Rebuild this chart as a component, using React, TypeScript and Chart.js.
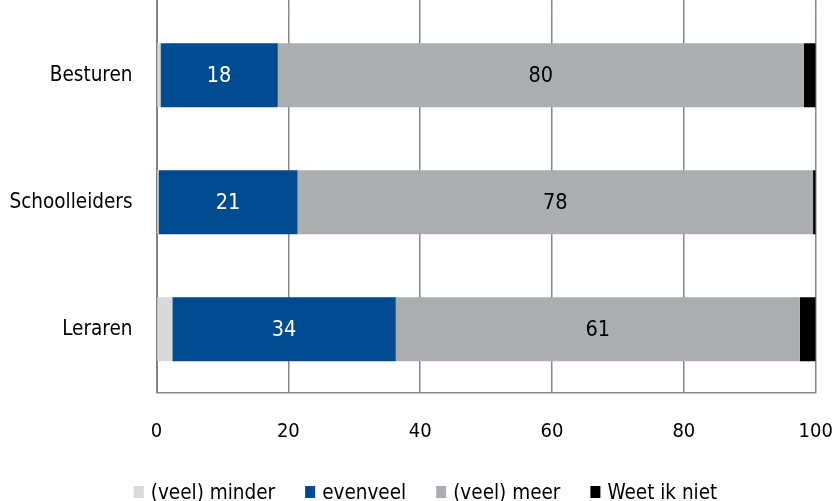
import { useEffect, useRef } from "react";
import { Chart, registerables } from "chart.js";

Chart.register(...registerables);

const categories = ["Besturen", "Schoolleiders", "Leraren"];
const seriesNames = ["(veel) minder", "evenveel", "(veel) meer", "Weet ik niet"];
const minder = [0.6, 0.3, 2.4];
const evenveel = [17.8, 21.1, 33.9];
const meer = [79.8, 78.2, 61.3];
const weetNiet = [1.8, 0.4, 2.4];
const xTicks = [0, 20, 40, 60, 80, 100];

const colors = ["#d9d9d9", "#004a8f", "#abaeb1", "#000000"];
const labelColors = [null, "#ffffff", "#000000", null];
const FONT = "'DejaVu Sans Condensed', 'DejaVu Sans', sans-serif";
const GRID = "#888888";
const AXIS = "#808080";

const align = (px: number, w: number) => Math.round(px - w / 2) + w / 2;

const topGridPlugin = {
  id: "topGrid",
  beforeDatasetsDraw(chart: any) {
    const { ctx, chartArea, scales } = chart;
    ctx.save();
    for (const v of xTicks) {
      const w = v === 0 ? 2 : 1.5;
      ctx.strokeStyle = v === 0 ? AXIS : GRID;
      ctx.lineWidth = w;
      const x = align(scales.x.getPixelForValue(v), w);
      ctx.beginPath();
      ctx.moveTo(x, 0);
      ctx.lineTo(x, chartArea.top);
      ctx.stroke();
    }
    ctx.restore();
  },
};

const valueLabelPlugin = {
  id: "valueLabels",
  afterDatasetsDraw(chart: any) {
    const { ctx } = chart;
    ctx.save();
    ctx.font = `21.5px ${FONT}`;
    ctx.textAlign = "center";
    ctx.textBaseline = "middle";
    chart.data.datasets.forEach((ds: any, di: number) => {
      const color = labelColors[di];
      if (!color) return;
      const meta = chart.getDatasetMeta(di);
      meta.data.forEach((el: any, i: number) => {
        const p = el.getProps(["x", "y", "base"], true);
        ctx.fillStyle = color;
        ctx.fillText(String(Math.round(ds.data[i])), (p.x + p.base) / 2, p.y + 1);
      });
    });
    ctx.restore();
  },
};

const legendPlugin = {
  id: "customLegend",
  afterDraw(chart: any) {
    const { ctx } = chart;
    ctx.save();
    ctx.font = `20.5px ${FONT}`;
    const boxW = 10;
    const boxH = 12;
    const gap = 7;
    const itemGap = 30;
    const widths = seriesNames.map((n) => ctx.measureText(n).width);
    const total =
      widths.reduce((a, b) => a + b, 0) + seriesNames.length * (boxW + gap) + itemGap * (seriesNames.length - 1);
    let x = chart.width / 2 + 8.5 - total / 2;
    const baseline = 499;
    seriesNames.forEach((n, i) => {
      ctx.fillStyle = colors[i];
      ctx.fillRect(x, 486, boxW, boxH);
      x += boxW + gap;
      ctx.fillStyle = "#000";
      ctx.textBaseline = "alphabetic";
      ctx.textAlign = "left";
      ctx.fillText(n, x, baseline);
      x += widths[i] + itemGap;
    });
    ctx.restore();
  },
};

export default function App() {
  const ref = useRef<HTMLCanvasElement | null>(null);
  useEffect(() => {
    if (!ref.current) return;
    const series = [minder, evenveel, meer, weetNiet];
    const chart = new Chart(ref.current, {
      type: "bar",
      data: {
        labels: categories,
        datasets: series.map((d, i) => ({
          label: seriesNames[i],
          data: d,
          backgroundColor: colors[i],
          borderWidth: 0,
          categoryPercentage: 1,
          barPercentage: 0.503,
        })),
      },
      options: {
        indexAxis: "y",
        animation: false,
        responsive: true,
        maintainAspectRatio: false,
        layout: { padding: { top: 11.7, right: 18.3, bottom: 0, left: 0 } },
        plugins: {
          legend: { display: false },
          tooltip: { enabled: false },
        },
        scales: {
          x: {
            stacked: true,
            min: 0,
            max: 100,
            afterBuildTicks: (s: any) => {
              s.ticks = xTicks.map((v) => ({ value: v }));
            },
            afterFit: (s: any) => {
              s.height = 108.3;
              s.paddingLeft = 0;
              s.paddingRight = 0;
              s.paddingTop = 0;
              s.paddingBottom = 0;
            },
            grid: { color: GRID, lineWidth: 1.5, drawTicks: false },
            border: { color: GRID, width: 1.5 },
            ticks: {
              color: "#000",
              font: { family: FONT, size: 20 },
              padding: 27,
              maxRotation: 0,
            },
          },
          y: {
            stacked: true,
            afterFit: (s: any) => {
              s.width = 156.5;
              s.paddingLeft = 0;
              s.paddingRight = 0;
              s.paddingTop = 0;
              s.paddingBottom = 0;
            },
            grid: { display: false, drawTicks: false },
            border: { display: true, color: AXIS, width: 2 },
            ticks: {
              color: "#000",
              font: { family: FONT, size: 20.5 },
              padding: 24,
            },
          },
        },
      },
      plugins: [topGridPlugin, valueLabelPlugin, legendPlugin],
    });
    return () => chart.destroy();
  }, []);
  return (
    <div style={{ position: "absolute", left: 0, top: 0, width: 834, height: 501 }}>
      <canvas ref={ref} />
    </div>
  );
}
